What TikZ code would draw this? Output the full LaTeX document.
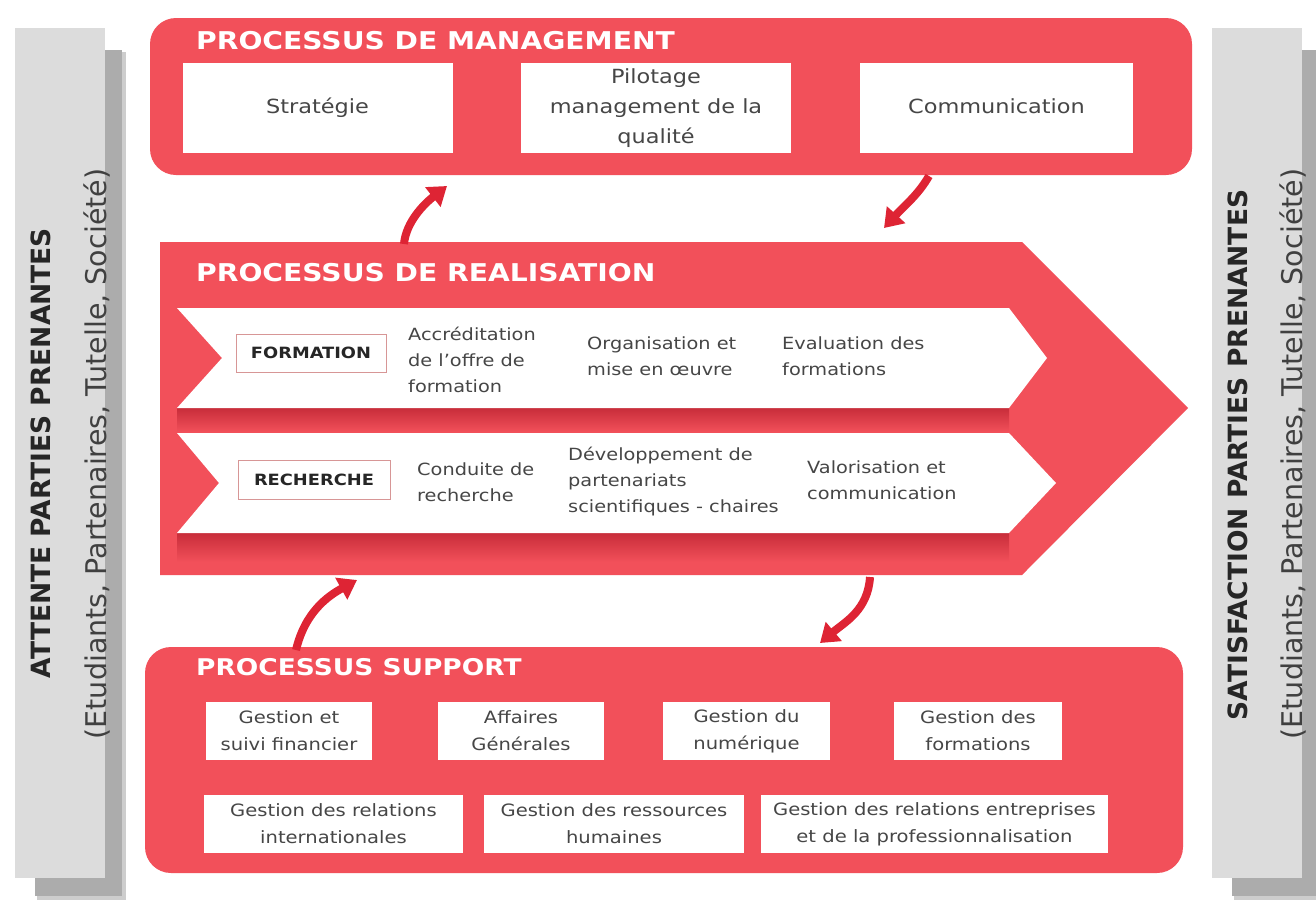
\documentclass[tikz,border=0pt]{standalone}
\usepackage{fontspec}
\setmainfont{DejaVu Sans}[FakeStretch=1.15]
\newfontfamily\rotfont{DejaVu Sans}
\usetikzlibrary{arrows.meta}
\definecolor{pred}{RGB}{242,80,90}
\definecolor{pdark}{RGB}{200,45,58}
\definecolor{arred}{RGB}{222,36,52}
\definecolor{txtgrey}{RGB}{70,70,70}
\definecolor{barlight}{RGB}{220,220,220}
\definecolor{barshadow}{RGB}{172,172,172}
\definecolor{barshadowsoft}{RGB}{205,205,205}
\definecolor{lblborder}{RGB}{215,150,150}
\tikzset{
  procbox/.style={fill=pred, draw=none, rounded corners=26pt, inner sep=0pt},
  wbox/.style={fill=white, draw=none, align=center, text=txtgrey, inner sep=0pt},
  mgbox/.style={wbox, minimum width=270pt, minimum height=90pt, font=\fontsize{19.5}{30}\selectfont},
  supbox/.style={wbox, minimum height=58pt, font=\fontsize{17}{27}\selectfont},
  ptitle/.style={text=white, anchor=west, inner sep=0pt, font=\fontsize{24.5}{28}\selectfont\bfseries},
  bandtxt/.style={anchor=west, align=left, text=txtgrey, inner sep=0pt, font=\fontsize{16.8}{26}\selectfont},
  lblbox/.style={fill=white, draw=lblborder, line width=1pt, inner sep=0pt, minimum width=150pt, minimum height=38pt, text=black!85, font=\fontsize{15.5}{17}\selectfont\bfseries},
  flow/.style={draw=arred, line width=8pt, -{Triangle[width=24pt,length=18pt]}},
  sidebar/.style={fill=barlight, draw=none},
  sidetitle/.style={rotate=90, inner sep=0pt, text=black!85, font={\rotfont\fontsize{26.5}{30}\selectfont\bfseries}},
  sidesub/.style={rotate=90, inner sep=0pt, text=black!75, font={\rotfont\fontsize{28.5}{30}\selectfont}},
}
\begin{document}
\begin{tikzpicture}[x=1pt,y=-1pt]
\useasboundingbox (0,0) rectangle (1316,906);
\fill[white] (0,0) rectangle (1316,906);

% side bars with shadows
\fill[barshadowsoft] (37,52) rectangle (126,900);
\fill[barshadow] (35,50) rectangle (122,896);
\node[sidebar, minimum width=90pt, minimum height=850pt, inner sep=0pt] (lbar) at (60,453) {};
\fill[barshadowsoft] (1234,52) rectangle (1320,900);
\fill[barshadow] (1232,50) rectangle (1320,896);
\node[sidebar, minimum width=90pt, minimum height=850pt, inner sep=0pt] (rbar) at (1257,453) {};

\node[sidetitle] (ltitle) at (41,453) {ATTENTE PARTIES PRENANTES};
\node[sidesub] (lsub) at (97,454) {(Etudiants, Partenaires, Tutelle, Société)};
\node[sidetitle] (rtitle) at (1238,455) {SATISFACTION PARTIES PRENANTES};
\node[sidesub] (rsub) at (1293,454) {(Etudiants, Partenaires, Tutelle, Société)};

% management
\node[procbox, minimum width=1042pt, minimum height=157pt] (mgmt) at (671,96.5) {};
\node[ptitle] (mgmttitle) at (196,41) {PROCESSUS DE MANAGEMENT};
\node[mgbox] (strat) at (317.5,108) {\raisebox{4pt}{Stratégie}};
\node[mgbox] (pilot) at (656,108) {Pilotage\\management de la\\qualité};
\node[mgbox, minimum width=273pt] (comm) at (996.5,108) {\raisebox{4pt}{Communication}};

% realisation pentagon
\fill[pred] (160,242) -- (1022,242) -- (1188,408) -- (1022,575) -- (160,575) -- cycle;
\shade[top color=pdark, bottom color=pred] (177,408) rectangle (1009,432);
\shade[top color=pdark, bottom color=pred] (177,533) rectangle (1009,562);
\coordinate (realtop) at (404,244);
\node[ptitle] (realtitle) at (196,273) {PROCESSUS DE REALISATION};

% bands
\fill[white] (177,308) -- (1009,308) -- (1047,358) -- (1009,408) -- (177,408) -- (222,358) -- cycle;
\fill[white] (177,433) -- (1009,433) -- (1056,483) -- (1009,533) -- (177,533) -- (219,483) -- cycle;

\node[lblbox] (form) at (311,353) {FORMATION};
\node[lblbox, minimum width=152pt, minimum height=39pt] (rech) at (314,480) {RECHERCHE};

\node[bandtxt] (f1) at (408,360) {Accréditation\\de l'offre de\\formation};
\node[bandtxt] (f2) at (587,356) {Organisation et\\mise en œuvre};
\node[bandtxt] (f3) at (782,356) {Evaluation des\\formations};

\node[bandtxt] (r1) at (417,482) {Conduite de\\recherche};
\node[bandtxt] (r2) at (568,482) {Développement de\\partenariats\\scientifiques - chaires};
\node[bandtxt] (r3) at (807,480) {Valorisation et\\communication};

% support
\node[procbox, minimum width=1038pt, minimum height=226pt] (supp) at (664,760) {};
\node[ptitle, font=\fontsize{23}{28}\selectfont\bfseries] (supptitle) at (196,667) {PROCESSUS SUPPORT};
\node[supbox, minimum width=166pt] (s1) at (289,731) {Gestion et\\suivi financier};
\node[supbox, minimum width=166pt] (s2) at (521,731) {Affaires\\Générales};
\node[supbox, minimum width=167pt] (s3) at (746.5,731) {Gestion du\\numérique};
\node[supbox, minimum width=168pt] (s4) at (978,731) {Gestion des\\formations};
\node[supbox, minimum width=259pt] (s5) at (333.5,824) {Gestion des relations\\internationales};
\node[supbox, minimum width=260pt] (s6) at (614,824) {Gestion des ressources\\humaines};
\node[supbox, minimum width=347pt] (s7) at (934.5,824) {Gestion des relations entreprises\\et de la professionnalisation};

% flow arrows
\coordinate (mgmtin) at (447,186);
\coordinate (mgmtout) at (929,176);
\coordinate (realin) at (884,228);
\coordinate (realbot) at (870,577);
\coordinate (realbotin) at (357,580);
\coordinate (supptop) at (296,650);
\coordinate (suppin) at (820,643);
\draw[flow] (realtop) .. controls (406,222) and (424,204) .. (mgmtin);
\draw[flow] (mgmtout) .. controls (918,195) and (905,205) .. (realin);
\draw[flow] (supptop) .. controls (305,612) and (328,596) .. (realbotin);
\draw[flow] (realbot) .. controls (868,610) and (845,622) .. (suppin);
\end{tikzpicture}
\end{document}
